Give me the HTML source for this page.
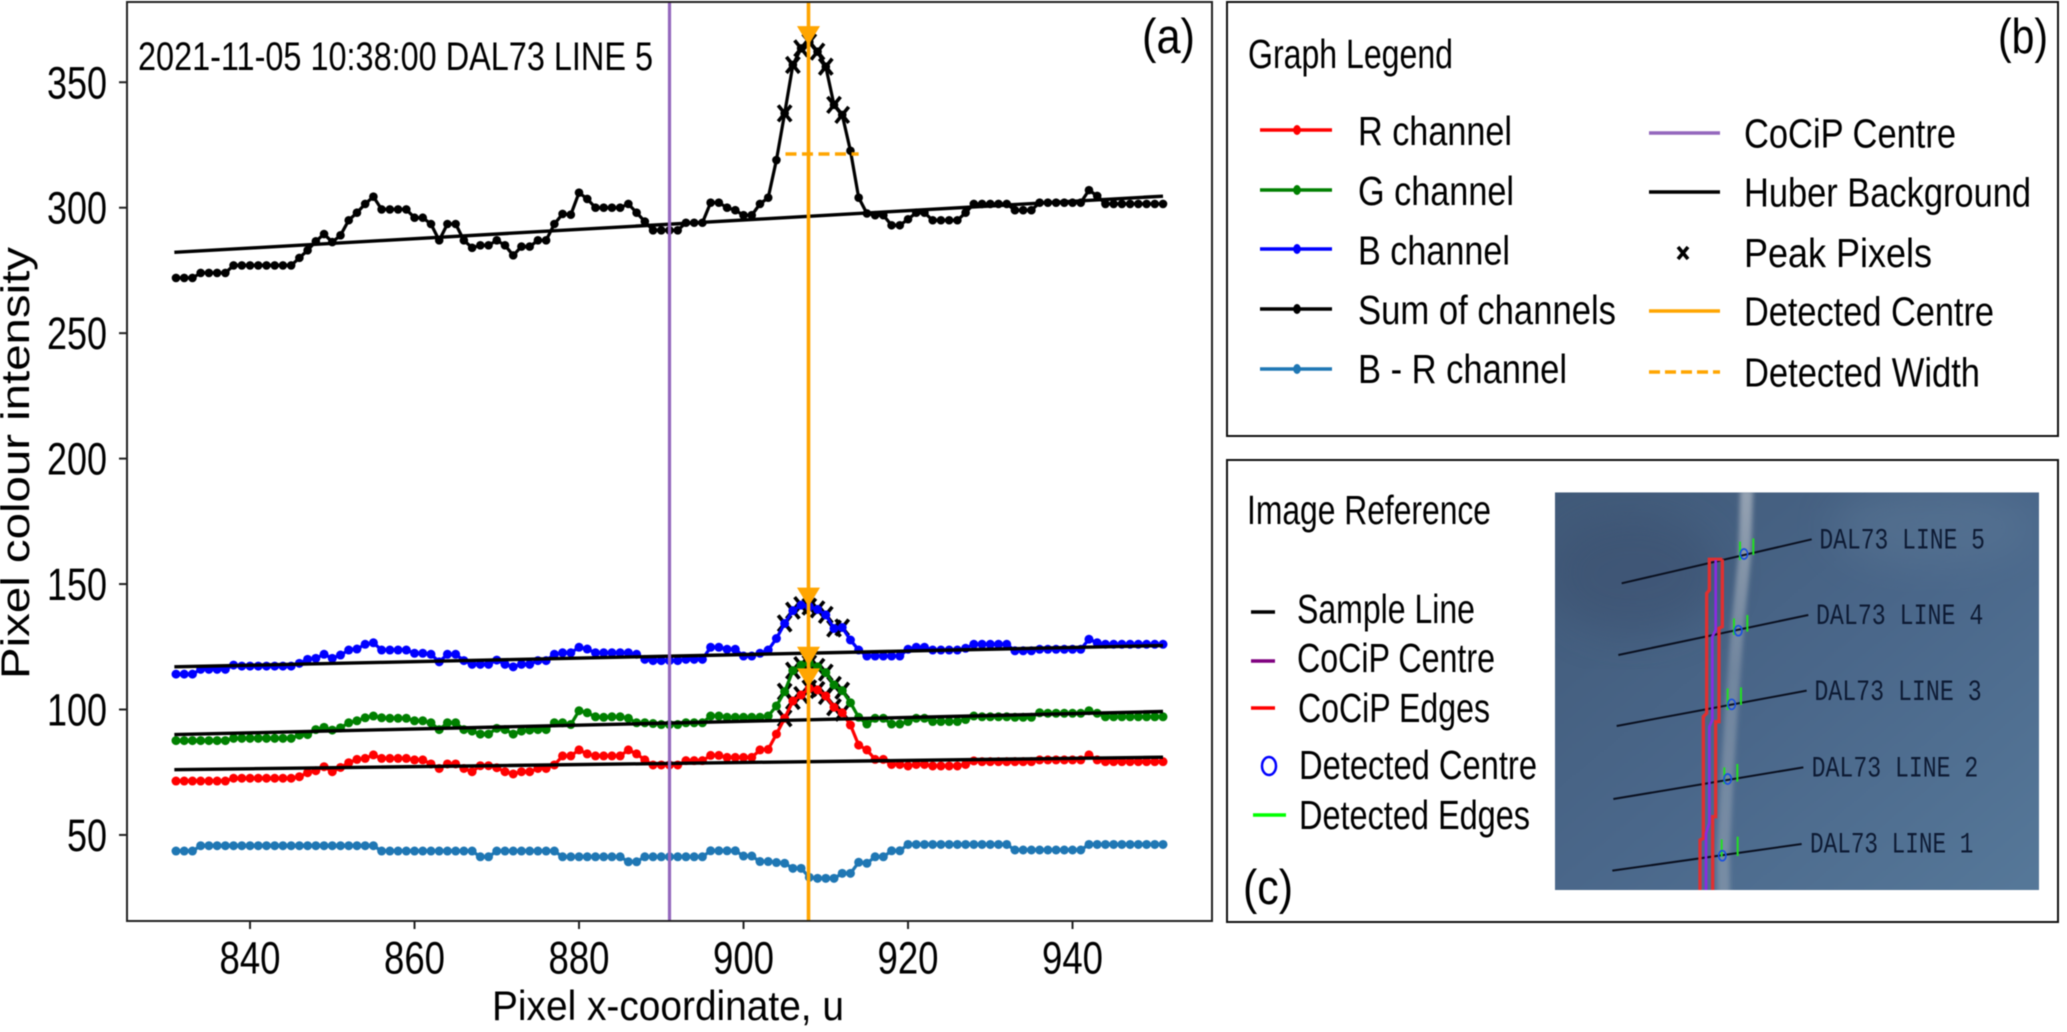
<!DOCTYPE html>
<html lang="en">
<head>
<meta charset="utf-8">
<title>Pixel colour intensity along sample line</title>
<style>
html,body{margin:0;padding:0;background:#fff;overflow:hidden;}
svg{display:block;filter:blur(0.5px);}
text{font-family:"Liberation Sans",sans-serif;fill:#000;}
.sm{font-size:41px;}
.lb{font-size:49px;}
.ins{font-family:"Liberation Mono",monospace;font-size:88px;fill:#0d1a33;}
</style>
</head>
<body>
<svg id="root" xmlns="http://www.w3.org/2000/svg" width="2067" height="1032" viewBox="0 0 2067 1032">
  <defs>
    <linearGradient id="skyGrad" x1="0" y1="0" x2="1" y2="1">
      <stop offset="0" stop-color="#415a79"/>
      <stop offset="0.5" stop-color="#4a678a"/>
      <stop offset="1" stop-color="#567899"/>
    </linearGradient>
    <linearGradient id="trailGrad" x1="0" y1="0" x2="0" y2="1">
      <stop offset="0" stop-color="#a9b3bf" stop-opacity="0.8"/>
      <stop offset="0.45" stop-color="#9aa7b6" stop-opacity="0.5"/>
      <stop offset="1" stop-color="#9aa7b6" stop-opacity="0.55"/>
    </linearGradient>
    <filter id="soft" x="-50%" y="-10%" width="200%" height="120%"><feGaussianBlur stdDeviation="7"/></filter>
    <filter id="softBig" x="-30%" y="-30%" width="160%" height="160%"><feGaussianBlur stdDeviation="60"/></filter>
    <clipPath id="insetClip"><rect x="15" y="37" width="1452" height="1193"/></clipPath>
  </defs>
  <rect width="2067" height="1032" fill="#fff"/>

  <g id="chart"></g>
  <rect x="127" y="2" width="1085" height="919" fill="none" stroke="#222" stroke-width="2"/>
  <text x="138" y="70" font-size="40" textLength="515" lengthAdjust="spacingAndGlyphs">2021-11-05 10:38:00 DAL73 LINE 5</text>
  <text class="lb" x="1142" y="53" textLength="53" lengthAdjust="spacingAndGlyphs">(a)</text>
  <text x="492" y="1020" font-size="42" textLength="352" lengthAdjust="spacingAndGlyphs">Pixel x-coordinate, u</text>
  <text transform="translate(29,679) rotate(-90)" font-size="40" textLength="432" lengthAdjust="spacingAndGlyphs">Pixel colour intensity</text>

  <g>
    <rect x="1227" y="2" width="831" height="434" fill="none" stroke="#111" stroke-width="2"/>
    <text class="sm" x="1248" y="68" textLength="205" lengthAdjust="spacingAndGlyphs">Graph Legend</text>
    <text class="lb" x="1998" y="53" textLength="50" lengthAdjust="spacingAndGlyphs">(b)</text>

    <g>
      <line x1="1260" x2="1332" y1="130" y2="130" stroke="#ff0000" stroke-width="3.4"/>
      <ellipse cx="1297" cy="130" rx="3.8" ry="5" fill="#ff0000"/>
      <text class="sm" x="1358" y="145" textLength="154" lengthAdjust="spacingAndGlyphs">R channel</text>
    </g>
    <g>
      <line x1="1260" x2="1332" y1="190" y2="190" stroke="#008000" stroke-width="3.4"/>
      <ellipse cx="1297" cy="190" rx="3.8" ry="5" fill="#008000"/>
      <text class="sm" x="1358" y="205" textLength="156" lengthAdjust="spacingAndGlyphs">G channel</text>
    </g>
    <g>
      <line x1="1260" x2="1332" y1="249" y2="249" stroke="#0000ff" stroke-width="3.4"/>
      <ellipse cx="1297" cy="249" rx="3.8" ry="5" fill="#0000ff"/>
      <text class="sm" x="1358" y="264.5" textLength="152" lengthAdjust="spacingAndGlyphs">B channel</text>
    </g>
    <g>
      <line x1="1260" x2="1332" y1="309" y2="309" stroke="#000" stroke-width="3.4"/>
      <ellipse cx="1297" cy="309" rx="3.8" ry="5" fill="#000"/>
      <text class="sm" x="1358" y="324" textLength="258" lengthAdjust="spacingAndGlyphs">Sum of channels</text>
    </g>
    <g>
      <line x1="1260" x2="1332" y1="369" y2="369" stroke="#1f77b4" stroke-width="3.4"/>
      <ellipse cx="1297" cy="369" rx="3.8" ry="5" fill="#1f77b4"/>
      <text class="sm" x="1358" y="383" textLength="209" lengthAdjust="spacingAndGlyphs">B - R channel</text>
    </g>

    <g>
      <line x1="1649" x2="1720" y1="133" y2="133" stroke="#9467bd" stroke-width="3.4"/>
      <text class="sm" x="1744" y="147.5" textLength="212" lengthAdjust="spacingAndGlyphs">CoCiP Centre</text>
    </g>
    <g>
      <line x1="1649" x2="1720" y1="192" y2="192" stroke="#000" stroke-width="3.4"/>
      <text class="sm" x="1744" y="206.5" textLength="287" lengthAdjust="spacingAndGlyphs">Huber Background</text>
    </g>
    <g>
      <path d="M1678 247 L1688 259 M1688 247 L1678 259" stroke="#000" stroke-width="3.6" fill="none"/>
      <text class="sm" x="1744" y="267" textLength="188" lengthAdjust="spacingAndGlyphs">Peak Pixels</text>
    </g>
    <g>
      <line x1="1649" x2="1720" y1="311" y2="311" stroke="#ffa500" stroke-width="3.4"/>
      <text class="sm" x="1744" y="325.5" textLength="250" lengthAdjust="spacingAndGlyphs">Detected Centre</text>
    </g>
    <g>
      <line x1="1649" x2="1720" y1="372" y2="372" stroke="#ffa500" stroke-width="3.4" stroke-dasharray="11 5"/>
      <text class="sm" x="1744" y="386.5" textLength="236" lengthAdjust="spacingAndGlyphs">Detected Width</text>
    </g>
  </g>

  <g>
    <rect x="1227" y="460" width="831" height="462" fill="none" stroke="#111" stroke-width="2"/>
    <text class="sm" x="1247" y="524" textLength="244" lengthAdjust="spacingAndGlyphs">Image Reference</text>
    <text class="lb" x="1243" y="904" textLength="50" lengthAdjust="spacingAndGlyphs">(c)</text>

    <g>
      <line x1="1251" x2="1275" y1="612" y2="612" stroke="#000" stroke-width="3.4"/>
      <text class="sm" x="1297" y="623" textLength="178" lengthAdjust="spacingAndGlyphs">Sample Line</text>
    </g>
    <g>
      <line x1="1251" x2="1275" y1="661" y2="661" stroke="#800080" stroke-width="3.4"/>
      <text class="sm" x="1297" y="672" textLength="198" lengthAdjust="spacingAndGlyphs">CoCiP Centre</text>
    </g>
    <g>
      <line x1="1251" x2="1275" y1="708" y2="708" stroke="#ff0000" stroke-width="3.4"/>
      <text class="sm" x="1298" y="722" textLength="192" lengthAdjust="spacingAndGlyphs">CoCiP Edges</text>
    </g>
    <g>
      <ellipse cx="1269" cy="766" rx="7" ry="9" fill="none" stroke="#0000ff" stroke-width="2.5"/>
      <text class="sm" x="1299" y="779" textLength="238" lengthAdjust="spacingAndGlyphs">Detected Centre</text>
    </g>
    <g>
      <line x1="1253" x2="1286" y1="815" y2="815" stroke="#00ff00" stroke-width="3.4"/>
      <text class="sm" x="1299" y="829" textLength="231" lengthAdjust="spacingAndGlyphs">Detected Edges</text>
    </g>

    <g transform="translate(1550,480) scale(0.33333)">
      <g clip-path="url(#insetClip)">
        <rect x="15" y="37" width="1452" height="1193" fill="url(#skyGrad)"/>
        <ellipse cx="250" cy="280" rx="260" ry="180" fill="#3a506e" opacity="0.5" filter="url(#softBig)"/>
        <ellipse cx="1150" cy="140" rx="300" ry="120" fill="#64809c" opacity="0.35" filter="url(#softBig)"/>
        <path d="M590 30 L584 230 L562 450 L545 680 L531 900 L520 1120 L521 1240" fill="none" stroke="url(#trailGrad)" stroke-width="38" filter="url(#soft)"/>

        <g stroke="#0a1020" stroke-width="6" fill="none">
          <line x1="215" y1="310" x2="785" y2="178"/>
          <line x1="205" y1="525" x2="775" y2="405"/>
          <line x1="200" y1="738" x2="770" y2="632"/>
          <line x1="190" y1="957" x2="760" y2="862"/>
          <line x1="187" y1="1172" x2="755" y2="1092"/>
        </g>
        <polyline points="517,238 478,238 478,330 470,340 470,700 460,710 460,1075 450,1080 450,1232" fill="none" stroke="#e03030" stroke-width="10"/>
        <polyline points="517,238 517,440 507,445 507,725 497,725 497,1010 488,1010 488,1232" fill="none" stroke="#e03030" stroke-width="10"/>
        <polyline points="497,240 497,450 487,470 487,720 478,740 478,1030 468,1060 468,1232" fill="none" stroke="#8a2be2" stroke-width="8"/>

        <g stroke="#22e022" stroke-width="6">
          <path d="M570 185V240M610 175V225"/>
          <path d="M552 415V465M592 405V455"/>
          <path d="M533 625V690M573 622V675"/>
          <path d="M523 862V912M562 852V905"/>
          <path d="M515 1078V1130M563 1070V1128"/>
        </g>
        <g fill="none" stroke="#1a50e0" stroke-width="5">
          <ellipse cx="582" cy="222" rx="11" ry="15"/>
          <ellipse cx="565" cy="452" rx="11" ry="15"/>
          <ellipse cx="545" cy="673" rx="11" ry="15"/>
          <ellipse cx="533" cy="897" rx="11" ry="15"/>
          <ellipse cx="517" cy="1127" rx="11" ry="15"/>
        </g>
        <g>
          <text class="ins" x="808" y="205" textLength="497" lengthAdjust="spacingAndGlyphs">DAL73 LINE 5</text>
          <text class="ins" x="798" y="432" textLength="502" lengthAdjust="spacingAndGlyphs">DAL73 LINE 4</text>
          <text class="ins" x="793" y="660" textLength="502" lengthAdjust="spacingAndGlyphs">DAL73 LINE 3</text>
          <text class="ins" x="785" y="890" textLength="500" lengthAdjust="spacingAndGlyphs">DAL73 LINE 2</text>
          <text class="ins" x="780" y="1118" textLength="490" lengthAdjust="spacingAndGlyphs">DAL73 LINE 1</text>
        </g>
      </g>
    </g>
  </g>
</svg>

<script>
const firstPixel = 831;
const sumValues = [
272,272,272,274,274,274,274,277,277,277,
277,277,277,277,277,280,283,286.6,289.5,286.3,
289,295,298,301.5,304.4,299.3,299.3,299.3,299.3,296,
296,293.5,287,293.5,293.5,287,284,285,285,287,
285,281,284.5,284.5,287,287,293.5,297.5,297.2,306,
303.5,300,300,300,300,301.5,298,294.5,291,291,
291,291,294,294,294,302,302,300,299,297,
297,301.5,304,319,337.6,356.9,363.5,366,362.2,356.2,
341,337,322.7,304,297.7,297,297,293,293,295.4,
298,298,295,295,295,295,298,301.5,301.5,301.5,
301.5,301.5,299,299,299,302,302,302,302,302,
302,307,304.7,301.5,301.5,301.5,301.5,301.5,301.5,301.5,
301.5];
const blueValues = [
114.1,114.1,114.1,116,116,116,116,117.7,117.3,117.3,
117.3,117.3,117.3,117.3,117.3,118.4,120,120.4,122,120.4,
121.7,123.7,124.1,126,126.6,123.7,123.7,123.7,123.7,122.4,
122.4,122,119,122,122,119.5,118,118,118,119.7,
118,117,118,118,119.5,119.5,122,122.6,122.6,124.8,
124.1,122.6,122.6,122.6,122.6,122.6,122,120,119.5,119.5,
119.5,119.5,120,120,120,124.8,124.8,124,124,121.3,
121.3,122.4,123.7,128.3,134.3,139.4,141.6,141,139.9,137.7,
132.3,132.7,127.7,123.7,121.3,121.3,121.3,121.3,121.3,124,
124.8,124.8,123.7,123.7,123.7,123.7,124.4,126,126,126,
126,126,123.4,123.4,123.4,124,124,124,124,124,
124,128,126.6,126,126,126,126,126,126,126,
126];
const greenValues = [
87.6,87.6,87.6,87.6,87.6,87.6,87.6,88.5,88.5,88.5,
88.5,88.5,88.5,88.5,88.5,89.8,90,92,92.9,91.8,
92.7,94.7,95.5,96.7,97.4,96.7,96.5,96.5,96.5,95.5,
95.5,94.7,92,94.7,94.7,92,91.4,90.2,90.2,92.5,
92,90.2,91.4,91.8,92,92,94.7,94.7,94,99.5,
98.7,97.1,96.9,97.1,97.1,96.5,94.7,94.7,94.4,94,
94,94,94.7,94.7,94.7,97.4,97.4,96.9,96.9,96.9,
96.9,96.9,97.4,101.4,107.1,115.5,117.7,118.4,117,114.7,
109.8,107.5,102.7,96.9,94.2,96.5,96.5,94.2,94.2,95.2,
96.5,96.5,95.2,95.2,95.2,95.2,96,97.4,97.1,97.1,
97.1,97.1,96.9,96.9,96.9,98.7,98.5,98.5,98.5,98.5,
98.5,99.5,98.5,97.1,97.1,97.1,97.1,97.1,97.1,97.1,
97.1];
const redValues = [
71.5,71.5,71.5,71.5,71.5,71.5,71.5,72.6,72.6,72.6,
72.6,72.6,72.6,72.6,72.6,73.2,74.8,75.6,77.2,75.2,
76.9,78.8,80.1,80.5,81.9,80.5,80.5,80.5,80.5,79.9,
79.9,78.3,76.5,78.3,78.3,76.5,75.2,77.6,77.6,76.8,
75.2,74.3,75.2,75.2,76.5,76.5,77.9,81.5,81.5,83.9,
82.3,81.5,81.5,81.5,81.5,83.9,82.3,79.9,77.9,77.9,
77.9,77.9,79.6,79.6,79.6,81.7,81.7,80.9,80.9,80.9,
80.9,83.9,84.1,90.2,96.5,103.4,105.8,108.4,107.8,105.4,
100.9,98.7,93.8,85.8,83.9,80.1,80.1,78.1,78.1,77.5,
78.1,78.1,77.5,77.5,77.5,77.5,78.1,79.5,79.2,79.2,
79.2,79.2,79.2,79.2,79.2,79.9,79.9,79.9,79.9,79.9,
79.9,81.9,79.9,79.2,79.2,79.2,79.2,79.2,79.2,79.2,
79.2];
const blueMinusRedValues = [
43.6,43.6,43.6,45.7,45.7,45.7,45.7,45.7,45.7,45.7,
45.7,45.7,45.7,45.7,45.7,45.7,45.7,45.7,45.7,45.7,
45.7,45.7,45.7,45.7,45.7,43.6,43.6,43.6,43.6,43.6,
43.6,43.6,43.6,43.6,43.6,43.6,43.6,41.3,41.3,43.6,
43.6,43.6,43.6,43.6,43.6,43.6,43.6,41.3,41.3,41.3,
41.3,41.3,41.3,41.3,41.3,39.3,39.3,41.3,41.3,41.3,
41.3,41.3,41.3,41.3,41.3,43.7,43.7,43.7,43.7,41.6,
41.6,39.4,39.4,39,38.7,36.7,36.7,33.1,32.7,32.7,
32.7,34.7,34.7,39.1,38.7,41.3,41.3,43.7,43.7,46.2,
46.2,46.2,46.2,46.2,46.2,46.2,46.2,46.2,46.2,46.2,
46.2,46.2,44,44,44,44,44,44,44,44,
44,46.2,46.2,46.2,46.2,46.2,46.2,46.2,46.2,46.2,
46.2];
const sumHuber = [282.2, 304.6];
const blueHuber = [117, 125.5];
const greenHuber = [90, 99.2];
const redHuber = [76, 81];
const peakPixels = [905, 906, 907, 908, 909, 910, 911, 912];
const peakMarkerValues = [368.8, 145, 121.4, 112.8];
const cocipCentre = 891;
const detectedCentre = 907.9;
const detectedWidthStart = 905.1;
const detectedWidthEnd = 914;
const detectedWidthLevel = 321.4;
const xTickValues = [840, 860, 880, 900, 920, 940];
const yTickValues = [50, 100, 150, 200, 250, 300, 350];

const SVG_NS = 'http://www.w3.org/2000/svg';
const chart = document.getElementById('chart');
function xScale(u) { return 176 + (u - 831) * 8.225; }
function yScale(v) { return 207.7 + (300 - v) * 2.509; }
function make(tag, parent) {
  const el = document.createElementNS(SVG_NS, tag);
  parent.appendChild(el);
  return el;
}
const plotTop = 2, plotBottom = 921, plotLeft = 127;

const ticksGroup = make('g', chart);


xTickValues.forEach(function (t) {
  const tick = make('line', ticksGroup);
  
  
  tick.setAttribute('x1', xScale(t));
  tick.setAttribute('x2', xScale(t));
  tick.setAttribute('y1', plotBottom);
  tick.setAttribute('y2', plotBottom + 8);
  tick.setAttribute('stroke', '#222');
  tick.setAttribute('stroke-width', 2);
  const label = make('text', ticksGroup);
  
  
  label.setAttribute('x', xScale(t) - 30.5);
  label.setAttribute('y', 973.5);
  label.setAttribute('font-size', 45);
  label.setAttribute('textLength', 61);
  label.setAttribute('lengthAdjust', 'spacingAndGlyphs');
  label.textContent = String(t);
});
yTickValues.forEach(function (t) {
  const tick = make('line', ticksGroup);
  
  
  tick.setAttribute('x1', plotLeft - 8);
  tick.setAttribute('x2', plotLeft);
  tick.setAttribute('y1', yScale(t));
  tick.setAttribute('y2', yScale(t));
  tick.setAttribute('stroke', '#222');
  tick.setAttribute('stroke-width', 2);
  const label = make('text', ticksGroup);
  
  
  label.setAttribute('x', t < 100 ? 67 : 47);
  label.setAttribute('y', yScale(t) + 16);
  label.setAttribute('font-size', 45);
  label.setAttribute('textLength', t < 100 ? 40 : 60);
  label.setAttribute('lengthAdjust', 'spacingAndGlyphs');
  label.textContent = String(t);
});

function drawPeakMarks(values) {
  const group = make('g', chart);
  
  
  peakPixels.forEach(function (u) {
    const v = values[u - firstPixel];
    const px = xScale(u), py = yScale(v);
    const mark = make('path', group);
    
    
    mark.setAttribute('d', 'M' + (px - 6.5) + ' ' + (py - 8) + 'L' + (px + 6.5) + ' ' + (py + 8) + 'M' + (px + 6.5) + ' ' + (py - 8) + 'L' + (px - 6.5) + ' ' + (py + 8));
    mark.setAttribute('stroke', '#000');
    mark.setAttribute('stroke-width', 3.6);
    mark.setAttribute('fill', 'none');
  });
}
function drawSeries(values, colour, radius) {
  const group = make('g', chart);
  
  
  const line = make('polyline', group);
  
  
  line.setAttribute('points', values.map(function (v, i) { return xScale(firstPixel + i) + ',' + yScale(v); }).join(' '));
  line.setAttribute('fill', 'none');
  line.setAttribute('stroke', colour);
  line.setAttribute('stroke-width', 3.2);
  values.forEach(function (v, i) {
    const dot = make('circle', group);
    
    
    dot.setAttribute('cx', xScale(firstPixel + i));
    dot.setAttribute('cy', yScale(v));
    dot.setAttribute('r', radius);
    dot.setAttribute('fill', colour);
  });
}
function drawHuber(ends) {
  const line = make('line', chart);
  
  
  line.setAttribute('x1', xScale(firstPixel - 0.2));
  line.setAttribute('x2', xScale(firstPixel + 120));
  line.setAttribute('y1', yScale(ends[0]));
  line.setAttribute('y2', yScale(ends[1]));
  line.setAttribute('stroke', '#000');
  line.setAttribute('stroke-width', 3.4);
}

[sumValues, blueValues, greenValues, redValues].forEach(drawPeakMarks);
drawSeries(redValues, '#ff0000', 4.5);
drawSeries(greenValues, '#008000', 4.5);
drawSeries(blueValues, '#0000ff', 4.5);
drawSeries(sumValues, '#000000', 4.3);
drawSeries(blueMinusRedValues, '#1f77b4', 4.5);
[redHuber, greenHuber, blueHuber, sumHuber].forEach(drawHuber);

const cocipLine = make('line', chart);


cocipLine.setAttribute('x1', xScale(cocipCentre));
cocipLine.setAttribute('x2', xScale(cocipCentre));
cocipLine.setAttribute('y1', plotTop);
cocipLine.setAttribute('y2', plotBottom);
cocipLine.setAttribute('stroke', '#9467bd');
cocipLine.setAttribute('stroke-width', 3.2);

const centreLine = make('line', chart);


centreLine.setAttribute('x1', xScale(detectedCentre));
centreLine.setAttribute('x2', xScale(detectedCentre));
centreLine.setAttribute('y1', plotTop);
centreLine.setAttribute('y2', plotBottom);
centreLine.setAttribute('stroke', '#ffa500');
centreLine.setAttribute('stroke-width', 3.6);

const widthLine = make('line', chart);


widthLine.setAttribute('x1', xScale(detectedWidthStart));
widthLine.setAttribute('x2', xScale(detectedWidthEnd));
widthLine.setAttribute('y1', yScale(detectedWidthLevel));
widthLine.setAttribute('y2', yScale(detectedWidthLevel));
widthLine.setAttribute('stroke', '#ffa500');
widthLine.setAttribute('stroke-width', 3.6);
widthLine.setAttribute('stroke-dasharray', '11 5.5');

peakMarkerValues.forEach(function (v) {
  const px = xScale(detectedCentre), py = yScale(v);
  const tri = make('polygon', chart);
  
  
  tri.setAttribute('points', (px - 11.5) + ',' + (py - 9) + ' ' + (px + 11.5) + ',' + (py - 9) + ' ' + px + ',' + (py + 10));
  tri.setAttribute('fill', '#ffa500');
});
</script>
</body>
</html>
